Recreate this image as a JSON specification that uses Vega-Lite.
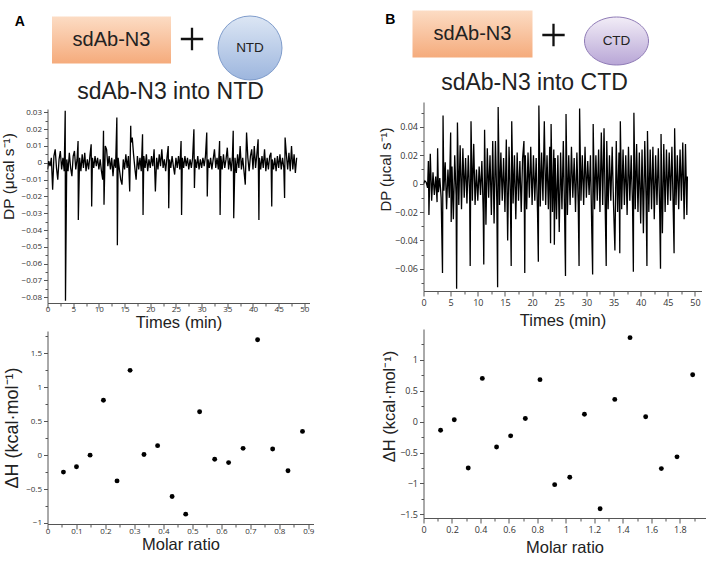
{
  "$schema": "https://vega.github.io/schema/vega-lite/v6.json",
  "background": "white",
  "padding": {"left": 0.5, "top": 10, "right": 3, "bottom": 3},
  "config": {
    "view": {"stroke": null},
    "axis": {"grid": false, "labelFlush": false, "labelOverlap": false, "domainColor": "#555", "tickColor": "#555", "labelColor": "#333", "titleColor": "#222", "titleFont": "Liberation Sans", "labelFont": "Open Sans", "titleFontWeight": "normal", "titleFontSize": 16.5, "labelFontSize": 8},
    "title": {"font": "Liberation Sans", "fontWeight": "normal", "color": "#222", "fontSize": 23}
  },
  "datasets": {
    "traceA": [
      {"t":0,"v":-0.004},{"t":0.25,"v":0.001},{"t":0.5,"v":-0.002},{"t":0.75,"v":0.003},{"t":1,"v":-0.016},{"t":1.25,"v":0.004},{"t":1.5,"v":0.008},{"t":1.75,"v":-0.003},{"t":2,"v":-0.01},{"t":2.25,"v":0.002},{"t":2.5,"v":0.007},{"t":2.75,"v":-0.004},{"t":3,"v":0.003},{"t":3.25,"v":-0.005},{"t":3.4,"v":0.022},{"t":3.45,"v":0.031},{"t":3.5,"v":-0.082},{"t":3.75,"v":0.002},{"t":4,"v":-0.005},{"t":4.25,"v":0.006},{"t":4.5,"v":-0.003},{"t":4.75,"v":-0.008},{"t":5,"v":0.004},{"t":5.25,"v":0.007},{"t":5.5,"v":-0.004},{"t":5.75,"v":0.002},{"t":5.95,"v":0.013},{"t":6,"v":-0.034},{"t":6.25,"v":0.003},{"t":6.5,"v":-0.005},{"t":6.75,"v":0.005},{"t":7,"v":-0.003},{"t":7.25,"v":0.006},{"t":7.5,"v":-0.005},{"t":7.75,"v":0.002},{"t":8,"v":-0.004},{"t":8.25,"v":0.004},{"t":8.5,"v":0.011},{"t":8.6,"v":-0.026},{"t":8.75,"v":0.003},{"t":9,"v":-0.003},{"t":9.25,"v":0.004},{"t":9.5,"v":-0.002},{"t":9.75,"v":0.003},{"t":10,"v":-0.004},{"t":10.25,"v":0.002},{"t":10.5,"v":-0.005},{"t":10.75,"v":-0.01},{"t":10.9,"v":0.019},{"t":11,"v":-0.025},{"t":11.25,"v":0.01},{"t":11.5,"v":0.008},{"t":11.75,"v":-0.002},{"t":12,"v":0.004},{"t":12.25,"v":-0.004},{"t":12.5,"v":0.003},{"t":12.75,"v":-0.008},{"t":13,"v":0.002},{"t":13.25,"v":-0.003},{"t":13.5,"v":0.027},{"t":13.6,"v":-0.049},{"t":13.75,"v":0.003},{"t":14,"v":-0.004},{"t":14.25,"v":-0.01},{"t":14.5,"v":-0.013},{"t":14.75,"v":0.002},{"t":15,"v":-0.004},{"t":15.25,"v":0.005},{"t":15.5,"v":-0.003},{"t":15.75,"v":0.004},{"t":16,"v":-0.017},{"t":16.2,"v":0.022},{"t":16.25,"v":0.012},{"t":16.5,"v":0.015},{"t":16.75,"v":0.005},{"t":17,"v":-0.003},{"t":17.25,"v":-0.01},{"t":17.5,"v":0.004},{"t":17.75,"v":-0.004},{"t":18,"v":0.003},{"t":18.25,"v":-0.005},{"t":18.5,"v":0.017},{"t":18.6,"v":-0.031},{"t":18.75,"v":0.004},{"t":19,"v":-0.003},{"t":19.25,"v":0.005},{"t":19.5,"v":-0.005},{"t":19.75,"v":0.002},{"t":20,"v":-0.003},{"t":20.25,"v":0.004},{"t":20.5,"v":-0.002},{"t":20.75,"v":0.008},{"t":21,"v":-0.017},{"t":21.25,"v":0.003},{"t":21.5,"v":-0.004},{"t":21.75,"v":0.005},{"t":22,"v":-0.002},{"t":22.25,"v":0.008},{"t":22.5,"v":-0.003},{"t":22.75,"v":0.002},{"t":23,"v":-0.005},{"t":23.25,"v":0.003},{"t":23.5,"v":0.01},{"t":23.6,"v":-0.027},{"t":23.75,"v":0.002},{"t":24,"v":-0.003},{"t":24.25,"v":0.004},{"t":24.5,"v":-0.002},{"t":24.75,"v":-0.007},{"t":25,"v":0.003},{"t":25.25,"v":-0.003},{"t":25.5,"v":0.004},{"t":25.75,"v":-0.004},{"t":26,"v":0.013},{"t":26.1,"v":-0.031},{"t":26.25,"v":0.003},{"t":26.5,"v":-0.003},{"t":26.75,"v":0.004},{"t":27,"v":-0.002},{"t":27.25,"v":0.003},{"t":27.5,"v":-0.004},{"t":27.75,"v":0.002},{"t":28,"v":-0.003},{"t":28.25,"v":0.003},{"t":28.5,"v":0.02},{"t":28.6,"v":-0.015},{"t":28.75,"v":0.002},{"t":29,"v":-0.003},{"t":29.25,"v":0.004},{"t":29.5,"v":-0.004},{"t":29.75,"v":0.002},{"t":30,"v":-0.003},{"t":30.25,"v":0.003},{"t":30.5,"v":-0.002},{"t":30.75,"v":0.004},{"t":31,"v":0.018},{"t":31.1,"v":-0.02},{"t":31.25,"v":0.002},{"t":31.5,"v":-0.003},{"t":31.75,"v":0.003},{"t":32,"v":-0.004},{"t":32.25,"v":0.002},{"t":32.5,"v":0.008},{"t":32.75,"v":-0.003},{"t":33,"v":0.003},{"t":33.25,"v":-0.004},{"t":33.5,"v":0.013},{"t":33.6,"v":-0.031},{"t":33.75,"v":0.004},{"t":34,"v":-0.004},{"t":34.25,"v":0.005},{"t":34.5,"v":-0.003},{"t":34.75,"v":0.002},{"t":35,"v":0.009},{"t":35.25,"v":-0.004},{"t":35.5,"v":0.003},{"t":35.75,"v":-0.005},{"t":36,"v":0.004},{"t":36.15,"v":0.019},{"t":36.25,"v":-0.033},{"t":36.5,"v":0.003},{"t":36.75,"v":-0.006},{"t":37,"v":0.005},{"t":37.25,"v":-0.003},{"t":37.5,"v":0.01},{"t":37.75,"v":-0.004},{"t":38,"v":0.003},{"t":38.25,"v":-0.005},{"t":38.5,"v":-0.013},{"t":38.75,"v":0.018},{"t":39,"v":0.003},{"t":39.25,"v":-0.005},{"t":39.5,"v":0.004},{"t":39.75,"v":0.008},{"t":40,"v":-0.004},{"t":40.25,"v":0.01},{"t":40.5,"v":-0.003},{"t":40.75,"v":0.005},{"t":41,"v":0.014},{"t":41.15,"v":-0.034},{"t":41.25,"v":0.003},{"t":41.5,"v":-0.004},{"t":41.75,"v":0.004},{"t":42,"v":-0.003},{"t":42.25,"v":0.008},{"t":42.5,"v":-0.005},{"t":42.75,"v":0.003},{"t":43,"v":-0.004},{"t":43.25,"v":0.004},{"t":43.5,"v":0.006},{"t":43.65,"v":-0.026},{"t":43.75,"v":0.002},{"t":44,"v":-0.004},{"t":44.25,"v":0.003},{"t":44.5,"v":-0.005},{"t":44.75,"v":0.004},{"t":45,"v":-0.003},{"t":45.25,"v":0.005},{"t":45.5,"v":-0.004},{"t":45.75,"v":0.003},{"t":46,"v":-0.003},{"t":46.15,"v":-0.021},{"t":46.25,"v":0.015},{"t":46.5,"v":0.005},{"t":46.75,"v":-0.004},{"t":47,"v":0.006},{"t":47.25,"v":-0.005},{"t":47.5,"v":0.01},{"t":47.75,"v":-0.004},{"t":48,"v":0.005},{"t":48.25,"v":-0.006},{"t":48.5,"v":0.003}
    ],
    "traceB": [
      {"t":0,"v":0},{"t":0.25,"v":0.002},{"t":0.5,"v":0.001},{"t":0.75,"v":-0.003},{"t":0.9,"v":0.016},{"t":1,"v":-0.022},{"t":1.25,"v":0.021},{"t":1.5,"v":-0.012},{"t":1.75,"v":0.008},{"t":2,"v":-0.008},{"t":2.25,"v":0.005},{"t":2.5,"v":-0.013},{"t":2.6,"v":0.025},{"t":2.75,"v":-0.006},{"t":3,"v":0.004},{"t":3.25,"v":-0.01},{"t":3.5,"v":-0.063},{"t":3.6,"v":0.048},{"t":3.75,"v":-0.005},{"t":4,"v":0.015},{"t":4.25,"v":-0.018},{"t":4.5,"v":0.01},{"t":4.75,"v":-0.01},{"t":5,"v":0.036},{"t":5.1,"v":-0.027},{"t":5.25,"v":0.012},{"t":5.5,"v":-0.025},{"t":5.75,"v":0.02},{"t":6,"v":-0.008},{"t":6.1,"v":-0.074},{"t":6.25,"v":0.043},{"t":6.5,"v":-0.015},{"t":6.75,"v":0.027},{"t":7,"v":-0.018},{"t":7.25,"v":0.025},{"t":7.5,"v":-0.01},{"t":7.75,"v":0.018},{"t":8,"v":-0.014},{"t":8.25,"v":0.02},{"t":8.5,"v":-0.008},{"t":8.6,"v":-0.058},{"t":8.75,"v":0.044},{"t":9,"v":-0.012},{"t":9.25,"v":0.028},{"t":9.5,"v":-0.015},{"t":9.75,"v":0.01},{"t":10,"v":-0.012},{"t":10.25,"v":0.012},{"t":10.5,"v":-0.008},{"t":10.75,"v":0.016},{"t":11,"v":-0.02},{"t":11.1,"v":-0.057},{"t":11.25,"v":0.038},{"t":11.5,"v":-0.029},{"t":11.75,"v":0.025},{"t":12,"v":-0.01},{"t":12.25,"v":0.02},{"t":12.5,"v":-0.022},{"t":12.75,"v":0.03},{"t":13,"v":-0.028},{"t":13.25,"v":0.03},{"t":13.5,"v":-0.012},{"t":13.65,"v":-0.073},{"t":13.75,"v":0.054},{"t":14,"v":-0.015},{"t":14.25,"v":0.022},{"t":14.5,"v":-0.012},{"t":14.75,"v":0.018},{"t":15,"v":-0.02},{"t":15.25,"v":0.031},{"t":15.5,"v":-0.04},{"t":15.75,"v":0.026},{"t":16,"v":-0.01},{"t":16.15,"v":-0.058},{"t":16.25,"v":0.044},{"t":16.5,"v":-0.014},{"t":16.75,"v":0.02},{"t":17,"v":-0.025},{"t":17.25,"v":0.022},{"t":17.5,"v":-0.012},{"t":17.75,"v":0.016},{"t":18,"v":-0.02},{"t":18.25,"v":0.018},{"t":18.5,"v":0.03},{"t":18.65,"v":-0.063},{"t":18.75,"v":0.02},{"t":19,"v":-0.018},{"t":19.25,"v":0.022},{"t":19.5,"v":-0.01},{"t":19.75,"v":0.026},{"t":20,"v":-0.015},{"t":20.25,"v":0.02},{"t":20.5,"v":-0.012},{"t":20.75,"v":0.018},{"t":21,"v":-0.02},{"t":21.15,"v":-0.055},{"t":21.25,"v":0.055},{"t":21.5,"v":-0.016},{"t":21.75,"v":0.022},{"t":22,"v":-0.012},{"t":22.25,"v":0.044},{"t":22.5,"v":-0.015},{"t":22.75,"v":0.02},{"t":23,"v":-0.018},{"t":23.25,"v":0.026},{"t":23.4,"v":-0.042},{"t":23.5,"v":0.042},{"t":23.75,"v":-0.02},{"t":24,"v":0.024},{"t":24.1,"v":-0.043},{"t":24.25,"v":0.018},{"t":24.5,"v":-0.025},{"t":24.75,"v":0.02},{"t":25,"v":-0.034},{"t":25.25,"v":0.022},{"t":25.5,"v":-0.018},{"t":25.75,"v":0.03},{"t":26,"v":-0.025},{"t":26.15,"v":-0.065},{"t":26.25,"v":0.049},{"t":26.5,"v":-0.022},{"t":26.75,"v":0.02},{"t":27,"v":-0.015},{"t":27.25,"v":0.026},{"t":27.5,"v":-0.01},{"t":27.75,"v":0.018},{"t":28,"v":-0.02},{"t":28.25,"v":0.022},{"t":28.5,"v":-0.015},{"t":28.65,"v":-0.058},{"t":28.75,"v":0.053},{"t":29,"v":-0.012},{"t":29.25,"v":0.02},{"t":29.5,"v":-0.015},{"t":29.75,"v":0.026},{"t":30,"v":-0.01},{"t":30.25,"v":0.016},{"t":30.5,"v":-0.008},{"t":30.75,"v":0.02},{"t":31,"v":-0.035},{"t":31.15,"v":-0.064},{"t":31.25,"v":0.042},{"t":31.5,"v":-0.018},{"t":31.75,"v":0.02},{"t":32,"v":-0.012},{"t":32.25,"v":0.024},{"t":32.5,"v":-0.02},{"t":32.75,"v":0.036},{"t":33,"v":-0.015},{"t":33.25,"v":0.039},{"t":33.5,"v":-0.025},{"t":33.65,"v":-0.058},{"t":33.75,"v":0.03},{"t":34,"v":-0.018},{"t":34.25,"v":0.02},{"t":34.5,"v":-0.012},{"t":34.75,"v":0.026},{"t":35,"v":-0.015},{"t":35.25,"v":-0.047},{"t":35.5,"v":0.03},{"t":35.75,"v":-0.02},{"t":36,"v":0.022},{"t":36.15,"v":-0.049},{"t":36.25,"v":0.044},{"t":36.5,"v":-0.018},{"t":36.75,"v":0.024},{"t":37,"v":-0.015},{"t":37.25,"v":0.02},{"t":37.5,"v":-0.022},{"t":37.75,"v":0.026},{"t":38,"v":-0.012},{"t":38.25,"v":0.02},{"t":38.5,"v":-0.015},{"t":38.65,"v":-0.062},{"t":38.75,"v":0.05},{"t":39,"v":-0.018},{"t":39.25,"v":0.028},{"t":39.5,"v":-0.02},{"t":39.75,"v":0.022},{"t":40,"v":-0.028},{"t":40.25,"v":0.024},{"t":40.5,"v":-0.035},{"t":40.75,"v":0.03},{"t":41,"v":-0.012},{"t":41.15,"v":-0.058},{"t":41.25,"v":0.037},{"t":41.5,"v":-0.02},{"t":41.75,"v":0.024},{"t":42,"v":-0.018},{"t":42.25,"v":0.026},{"t":42.5,"v":-0.025},{"t":42.75,"v":0.02},{"t":43,"v":-0.015},{"t":43.25,"v":0.025},{"t":43.5,"v":-0.02},{"t":43.65,"v":-0.06},{"t":43.75,"v":0.035},{"t":44,"v":-0.035},{"t":44.25,"v":0.028},{"t":44.5,"v":-0.02},{"t":44.75,"v":0.024},{"t":45,"v":-0.015},{"t":45.25,"v":0.022},{"t":45.5,"v":-0.012},{"t":45.75,"v":0.026},{"t":46,"v":-0.02},{"t":46.15,"v":-0.049},{"t":46.25,"v":0.039},{"t":46.5,"v":-0.015},{"t":46.75,"v":0.02},{"t":47,"v":-0.018},{"t":47.25,"v":0.024},{"t":47.5,"v":-0.012},{"t":47.75,"v":0.029},{"t":48,"v":-0.025},{"t":48.25,"v":0.028},{"t":48.5,"v":-0.022},{"t":48.6,"v":0.005}
    ],
    "heatA": [
      {"ratio":0.055,"dh":-0.25},{"ratio":0.1,"dh":-0.17},{"ratio":0.147,"dh":0.0},{"ratio":0.193,"dh":0.81},{"ratio":0.24,"dh":-0.38},{"ratio":0.285,"dh":1.25},{"ratio":0.333,"dh":0.01},{"ratio":0.38,"dh":0.14},{"ratio":0.43,"dh":-0.61},{"ratio":0.477,"dh":-0.87},{"ratio":0.525,"dh":0.64},{"ratio":0.577,"dh":-0.06},{"ratio":0.625,"dh":-0.11},{"ratio":0.675,"dh":0.1},{"ratio":0.725,"dh":1.7},{"ratio":0.777,"dh":0.09},{"ratio":0.83,"dh":-0.23},{"ratio":0.88,"dh":0.35}
    ],
    "heatB": [
      {"ratio":0.12,"dh":-0.14},{"ratio":0.216,"dh":0.03},{"ratio":0.314,"dh":-0.75},{"ratio":0.413,"dh":0.7},{"ratio":0.513,"dh":-0.41},{"ratio":0.612,"dh":-0.23},{"ratio":0.715,"dh":0.05},{"ratio":0.818,"dh":0.68},{"ratio":0.921,"dh":-1.02},{"ratio":1.027,"dh":-0.9},{"ratio":1.13,"dh":0.12},{"ratio":1.24,"dh":-1.41},{"ratio":1.343,"dh":0.36},{"ratio":1.45,"dh":1.36},{"ratio":1.56,"dh":0.08},{"ratio":1.67,"dh":-0.76},{"ratio":1.78,"dh":-0.57},{"ratio":1.89,"dh":0.76}
    ]
  },
  "hconcat": [
    {
      "vconcat": [
        {
          "hconcat": [
            {"width": 128, "height": 60, "data": {"values": [{"label": "sdAb-N3"}]},
              "title": {"text": "A", "orient": "left", "angle": 0, "anchor": "end", "align": "right", "baseline": "top", "offset": 12.5, "dy": 4.5, "font": "Liberation Sans", "fontWeight": "bold", "fontSize": 14, "color": "#000"},
              "layer": [
              {"mark": {"type": "point", "shape": "M-1,-0.395L1,-0.395L1,0.395L-1,0.395Z", "size": 14161, "filled": true, "opacity": 1, "strokeWidth": 0, "fill": {"gradient": "linear", "x1": 0, "y1": 0, "x2": 0, "y2": 1, "stops": [{"offset": 0, "color": "#fcdcc4"}, {"offset": 1, "color": "#f5ab7c"}]}}, "encoding": {}},
              {"mark": {"type": "text", "font": "Liberation Sans", "fontSize": 20, "color": "#222"}, "encoding": {"text": {"field": "label"}}}
            ]},
            {"width": 33, "height": 58, "data": {"values": [{"label": "+"}]}, "mark": {"type": "point", "shape": "M-1,0L1,0M0,-1L0,1", "size": 500, "filled": false, "stroke": "#111", "strokeWidth": 2.3, "opacity": 1}, "encoding": {"description": {"field": "label"}}},
            {"width": 83, "height": 76, "data": {"values": [{"label": "NTD"}]}, "layer": [
              {"mark": {"type": "point", "shape": "circle", "size": 4096, "filled": true, "opacity": 1, "stroke": "#7f9ccb", "strokeWidth": 1, "fill": {"gradient": "linear", "x1": 0, "y1": 0, "x2": 0, "y2": 1, "stops": [{"offset": 0, "color": "#dce6f4"}, {"offset": 1, "color": "#9db6de"}]}}, "encoding": {}},
              {"mark": {"type": "text", "font": "Liberation Sans", "fontSize": 13.5, "color": "#222"}, "encoding": {"text": {"field": "label"}}}
            ]}
          ],
          "spacing": 0,
          "align": "none"
        },
        {
          "vconcat": [
            {
              "width": 262, "height": 194,
              "title": {"text": "sdAb-N3 into NTD", "dx": -8, "offset": 4, "anchor": "middle"},
              "data": {"name": "traceA"},
              "mark": {"type": "line", "color": "#000", "strokeWidth": 1.3, "clip": true},
              "encoding": {
                "x": {"field": "t", "type": "quantitative", "scale": {"domain": [0, 51], "nice": false, "zero": false},
                  "axis": {"title": "Times (min)", "values": [0,2.5,5,7.5,10,12.5,15,17.5,20,22.5,25,27.5,30,32.5,35,37.5,40,42.5,45,47.5,50], "format": ".1~f", "labelExpr": "datum.value % 5 === 0 ? datum.label : ''", "tickSize": {"condition": {"test": "datum.value % 5 === 0", "value": 5}, "value": 3}, "labelPadding": -3, "titlePadding": 1.5}},
                "y": {"field": "v", "type": "quantitative", "scale": {"domain": [-0.0834, 0.032], "nice": false, "zero": false},
                  "axis": {"title": "DP (μcal s⁻¹)", "titleFontSize": 15.5, "titleY": 67, "titlePadding": 5, "values": [-0.08,-0.075,-0.07,-0.065,-0.06,-0.055,-0.05,-0.045,-0.04,-0.035,-0.03,-0.025,-0.02,-0.015,-0.01,-0.005,0,0.005,0.01,0.015,0.02,0.025,0.03], "format": ".2~f", "labelExpr": "abs(round(datum.value*200)) % 2 === 0 ? datum.label : ''", "tickSize": {"condition": {"test": "abs(round(datum.value*200)) % 2 === 0", "value": 4}, "value": 2.5}, "labelPadding": 2}}
              }
            },
            {
              "width": 266, "height": 193,
              "data": {"name": "heatA"},
              "mark": {"type": "point", "filled": true, "color": "#000", "size": 24, "opacity": 1},
              "encoding": {
                "x": {"field": "ratio", "type": "quantitative", "scale": {"domain": [0, 0.918], "nice": false, "zero": false},
                  "axis": {"title": "Molar ratio", "values": [0,0.05,0.1,0.15,0.2,0.25,0.3,0.35,0.4,0.45,0.5,0.55,0.6,0.65,0.7,0.75,0.8,0.85,0.9], "format": ".1~f", "labelExpr": "round(datum.value*20) % 2 === 0 ? datum.label : ''", "tickSize": {"condition": {"test": "round(datum.value*20) % 2 === 0", "value": 5}, "value": 3}, "labelPadding": -2, "titlePadding": 1.5}},
                "y": {"field": "dh", "type": "quantitative", "scale": {"domain": [-1.015, 1.83], "nice": false, "zero": false},
                  "axis": {"title": "ΔH (kcal·mol⁻¹)", "titleFontSize": 18, "titlePadding": 4, "values": [-1,-0.75,-0.5,-0.25,0,0.25,0.5,0.75,1,1.25,1.5,1.75], "format": ".1~f", "labelExpr": "abs(round(datum.value*4)) % 2 === 0 ? datum.label : ''", "tickSize": {"condition": {"test": "abs(round(datum.value*4)) % 2 === 0", "value": 4}, "value": 2.5}, "labelPadding": 2}}
              }
            }
          ],
          "spacing": 0,
          "align": "each"
        }
      ],
      "spacing": -5,
      "align": "none"
    },
    {
      "vconcat": [
        {
          "hconcat": [
            {"width": 98, "height": 48, "data": {"values": [{"label": "sdAb-N3"}]},
              "title": {"text": "B", "orient": "left", "angle": 0, "anchor": "end", "align": "right", "baseline": "top", "offset": 7, "dy": 2.5, "font": "Liberation Sans", "fontWeight": "bold", "fontSize": 14, "color": "#000"},
              "layer": [
              {"mark": {"type": "point", "shape": "M-1,-0.392L1,-0.392L1,0.392L-1,0.392Z", "size": 14400, "filled": true, "opacity": 1, "strokeWidth": 0, "fill": {"gradient": "linear", "x1": 0, "y1": 0, "x2": 0, "y2": 1, "stops": [{"offset": 0, "color": "#fcdcc4"}, {"offset": 1, "color": "#f5ab7c"}]}}, "encoding": {}},
              {"mark": {"type": "text", "font": "Liberation Sans", "fontSize": 20, "color": "#222"}, "encoding": {"text": {"field": "label"}}}
            ]},
            {"width": 42, "height": 50, "data": {"values": [{"label": "+"}]}, "mark": {"type": "point", "shape": "M-1,0L1,0M0,-1L0,1", "size": 500, "filled": false, "stroke": "#111", "strokeWidth": 2.3, "opacity": 1}, "encoding": {"description": {"field": "label"}}},
            {"width": 84, "height": 62, "data": {"values": [{"label": "CTD"}]}, "layer": [
              {"mark": {"type": "point", "shape": "M-1,0A1,0.75 0 1,1 1,0A1,0.75 0 1,1 -1,0Z", "size": 4096, "filled": true, "opacity": 1, "stroke": "#8f7bb6", "strokeWidth": 1, "fill": {"gradient": "linear", "x1": 0, "y1": 0, "x2": 0, "y2": 1, "stops": [{"offset": 0, "color": "#f2edf7"}, {"offset": 1, "color": "#b8a6d6"}]}}, "encoding": {}},
              {"mark": {"type": "text", "font": "Liberation Sans", "fontSize": 13.5, "color": "#222"}, "encoding": {"text": {"field": "label"}}}
            ]}
          ],
          "spacing": 0,
          "align": "none"
        },
        {
          "vconcat": [
            {
              "width": 278, "height": 189,
              "title": {"text": "sdAb-N3 into CTD", "dx": -28, "offset": 7.5, "anchor": "middle"},
              "data": {"name": "traceB"},
              "mark": {"type": "line", "color": "#000", "strokeWidth": 1.3, "clip": true},
              "encoding": {
                "x": {"field": "t", "type": "quantitative", "scale": {"domain": [0, 51.2], "nice": false, "zero": false},
                  "axis": {"title": "Times (min)", "labelFontSize": 9, "values": [0,2.5,5,7.5,10,12.5,15,17.5,20,22.5,25,27.5,30,32.5,35,37.5,40,42.5,45,47.5,50], "format": ".1~f", "labelExpr": "datum.value % 5 === 0 ? datum.label : ''", "tickSize": {"condition": {"test": "datum.value % 5 === 0", "value": 5}, "value": 3}, "labelPadding": 2, "titlePadding": 5}},
                "y": {"field": "v", "type": "quantitative", "scale": {"domain": [-0.0756, 0.0575], "nice": false, "zero": false},
                  "axis": {"title": "DP (μcal s⁻¹)", "labelFontSize": 9, "titleFontSize": 15, "titleY": 67, "titlePadding": 1, "values": [-0.07,-0.06,-0.05,-0.04,-0.03,-0.02,-0.01,0,0.01,0.02,0.03,0.04,0.05], "format": ".2~f", "labelExpr": "abs(round(datum.value*100)) % 2 === 0 ? datum.label : ''", "tickSize": {"condition": {"test": "abs(round(datum.value*100)) % 2 === 0", "value": 4}, "value": 2.5}, "labelPadding": 2}}
              }
            },
            {
              "width": 282, "height": 189,
              "data": {"name": "heatB"},
              "mark": {"type": "point", "filled": true, "color": "#000", "size": 24, "opacity": 1},
              "encoding": {
                "x": {"field": "ratio", "type": "quantitative", "scale": {"domain": [0, 1.98], "nice": false, "zero": false},
                  "axis": {"title": "Molar ratio", "labelFontSize": 9, "values": [0,0.1,0.2,0.3,0.4,0.5,0.6,0.7,0.8,0.9,1,1.1,1.2,1.3,1.4,1.5,1.6,1.7,1.8,1.9], "format": ".1~f", "labelExpr": "round(datum.value*10) % 2 === 0 ? datum.label : ''", "tickSize": {"condition": {"test": "round(datum.value*10) % 2 === 0", "value": 5}, "value": 3}, "labelPadding": 2, "titlePadding": 5}},
                "y": {"field": "dh", "type": "quantitative", "scale": {"domain": [-1.56, 1.5], "nice": false, "zero": false},
                  "axis": {"title": "ΔH (kcal·mol⁻¹)", "labelFontSize": 9, "titleFontSize": 16.5, "titleY": 77, "titlePadding": 2, "values": [-1.5,-1.25,-1,-0.75,-0.5,-0.25,0,0.25,0.5,0.75,1,1.25], "format": ".1~f", "labelExpr": "abs(round(datum.value*4)) % 2 === 0 ? datum.label : ''", "tickSize": {"condition": {"test": "abs(round(datum.value*4)) % 2 === 0", "value": 4}, "value": 2.5}, "labelPadding": 2}}
              }
            }
          ],
          "spacing": -2,
          "align": "each"
        }
      ],
      "spacing": -1,
      "align": "none"
    }
  ],
  "spacing": 64,
  "align": "none"
}
